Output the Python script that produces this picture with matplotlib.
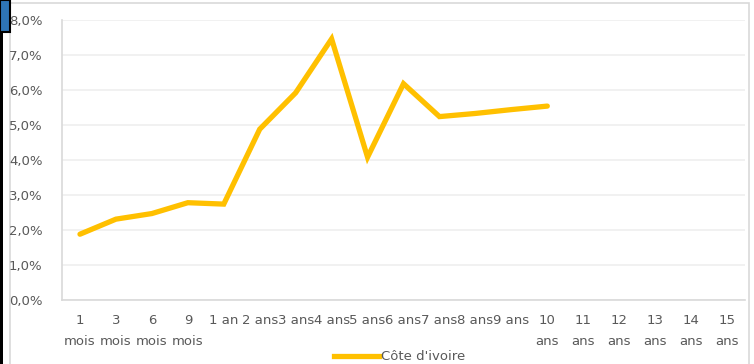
import matplotlib
matplotlib.use("Agg")
import matplotlib.pyplot as plt
import numpy as np
from matplotlib.patches import Rectangle
from matplotlib.lines import Line2D

categories = ["1\nmois", "3\nmois", "6\nmois", "9\nmois", "1 an", "2 ans", "3 ans", "4 ans",
              "5 ans", "6 ans", "7 ans", "8 ans", "9 ans", "10\nans", "11\nans", "12\nans",
              "13\nans", "14\nans", "15\nans"]
values = [1.88, 2.31, 2.47, 2.78, 2.74, 4.88, 5.92, 7.46, 4.08, 6.18, 5.24, 5.33, 5.44, 5.54,
          np.nan, np.nan, np.nan, np.nan, np.nan]
series_name = "Côte d'ivoire"
yticks = [0, 1, 2, 3, 4, 5, 6, 7, 8]
ytick_labels = ["0,0%", "1,0%", "2,0%", "3,0%", "4,0%", "5,0%", "6,0%", "7,0%", "8,0%"]

W, H = 754, 364
fig = plt.figure(figsize=(W / 100, H / 100), dpi=100)
plt.rcParams['font.family'] = ['DejaVu Sans']
txt = '#595959'

# chart frame
fig.patches.append(Rectangle((10 / W, -0.01), 739 / W, 1 - 3 / H + 0.01, transform=fig.transFigure,
                             facecolor='white', edgecolor='#D9D9D9', lw=1.2, zorder=-2))
# screenshot artifacts
fig.patches.append(Rectangle((0, 0), 2.5 / W, 1, transform=fig.transFigure,
                             facecolor='black', edgecolor='none', zorder=-1))
fig.patches.append(Rectangle((0, 1 - 32 / H), 10 / W, 32 / H, transform=fig.transFigure,
                             facecolor='#2E75B6', edgecolor='black', lw=1.5, zorder=-1))

ax = fig.add_axes([62 / W, 1 - 300 / H, (745 - 62) / W, 280 / H])
ax.set_facecolor('none')
x = np.arange(len(categories))
ax.plot(x, values, color='#FFC000', lw=3.8, solid_joinstyle='miter', solid_capstyle='round',
        zorder=3)

ax.set_xlim(-0.5, len(categories) - 0.5)
ax.set_ylim(0, 8)
ax.set_yticks(yticks)
ax.set_yticklabels(ytick_labels)
ax.set_xticks(x)
ax.set_xticklabels(categories, linespacing=1.8, va='top')
ax.tick_params(axis='both', length=0, colors=txt, labelsize=9.5)
ax.tick_params(axis='x', pad=10)
ax.tick_params(axis='y', pad=14)
ax.grid(axis='y', color='#EFEFEF', lw=1.2)
ax.set_axisbelow(True)
for s in ['top', 'right']:
    ax.spines[s].set_visible(False)
for s in ['left', 'bottom']:
    ax.spines[s].set_color('#D9D9D9')
    ax.spines[s].set_linewidth(1.2)

handle = Line2D([], [], color='#FFC000', lw=3.8)
fig.legend([handle], [series_name], loc='center', bbox_to_anchor=(0.53, 1 - 357 / H),
           frameon=False, fontsize=9.5, labelcolor=txt, handlelength=3.4, handletextpad=0.2,
           borderpad=0)

fig.savefig("out.png", dpi=100)
